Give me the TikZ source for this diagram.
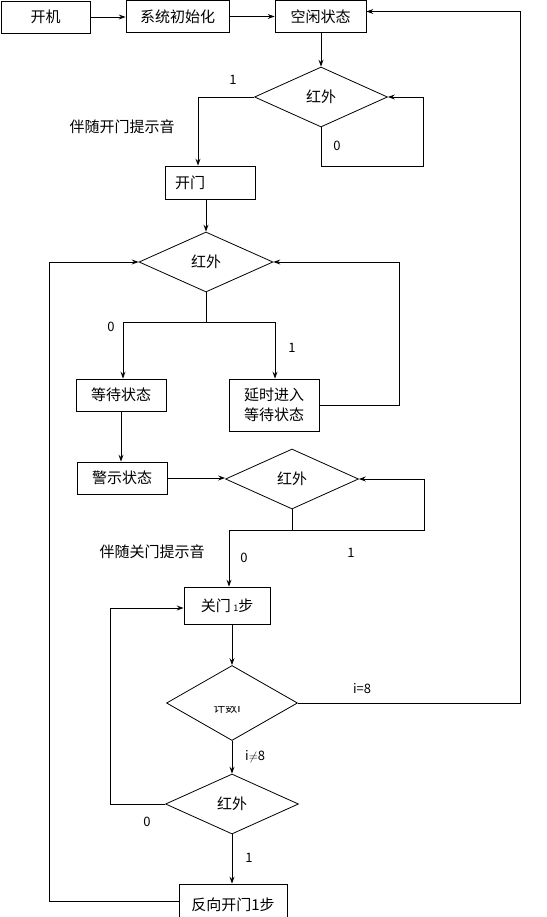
\documentclass[tikz,border=0pt]{standalone}
\usepackage{fontspec}
\setmainfont{Noto Sans CJK SC}
\usetikzlibrary{shapes.geometric,arrows.meta,calc}
\begin{document}
\begin{tikzpicture}[x=1pt,y=-1pt,
  every node/.style={font=\fontsize{15}{18}\selectfont},
  box/.style={draw,line width=0.8pt,rectangle,inner sep=0pt,align=center},
  dia/.style={draw,line width=0.8pt,diamond,inner sep=0pt,aspect=2},
  ln/.style={line width=0.8pt},
  arr/.style={line width=0.8pt,-{Stealth[length=7pt,width=5pt,inset=2.5pt]}},
  lbl/.style={inner sep=0pt,font=\fontsize{13}{15}\selectfont}]
\useasboundingbox (0,0) rectangle (546,917);
% boxes
\node[box,minimum width=89pt,minimum height=32pt] (kj) at (45.5,17) {开机};
\node[box,minimum width=103pt,minimum height=32pt] (xt) at (177.5,16.5) {系统初始化};
\node[box,minimum width=91pt,minimum height=32pt] (kx) at (320.5,16.5) {空闲状态};
\node[dia,minimum width=133pt,minimum height=60pt] (d1) at (321,97) {红外};
\node[box,minimum height=33pt,inner xsep=10pt,text width=70pt,align=left] (km) at (210,182.5) {开门};
\node[dia,minimum width=134pt,minimum height=60pt] (d2) at (206,262) {红外};
\node[box,minimum width=90pt,minimum height=32pt] (dd) at (121,395) {等待状态};
\node[box,minimum width=90pt,minimum height=52pt,font=\fontsize{15}{20}\selectfont] (ys) at (274,405) {延时进入\\等待状态};
\node[box,minimum width=90pt,minimum height=32pt] (js) at (122,478) {警示状态};
\node[dia,minimum width=133pt,minimum height=60pt] (d3) at (292,479) {红外};
\node[box,minimum width=86pt,minimum height=37pt] (gm) at (227,605.5) {关门\,{\fontsize{9}{9}\selectfont 1}步};
\node[dia,minimum width=131pt,minimum height=75pt] (d4) at (232,703) {};
\node[dia,minimum width=133pt,minimum height=60pt] (d5) at (232,804) {红外};
\node[box,minimum width=108pt,minimum height=42pt] (fx) at (233,905) {反向开门1步};
% clipped text in counting diamond
\begin{scope}
\clip (190,706) rectangle (270,730);
\node[font=\fontsize{12}{14}\selectfont] (jsi) at (227,708) {计数i};
\end{scope}
% labels
\node[lbl] (l1) at (233,80) {1};
\node[lbl] (l2) at (337,146) {0};
\node (t1) at (122,127) {伴随开门提示音};
\node[lbl] (l3) at (111,327) {0};
\node[lbl] (l4) at (292,348) {1};
\node (t2) at (152,552) {伴随关门提示音};
\node[lbl] (l5) at (244,558) {0};
\node[lbl] (l6) at (351,553) {1};
\node[lbl] (l7) at (362,689) {i=8};
\node[lbl,anchor=west] (l8) at (245,757) {i$\neq$8};
\node[lbl] (l9) at (147,822) {0};
\node[lbl] (l10) at (249,858) {1};
% connectors
\draw[arr] (kj.east) -- (kj.east -| xt.west);
\draw[arr] (xt.east) -- (xt.east -| kx.west);
\draw[arr] (kx.south -| d1.north) -- (d1.north);
\draw[arr] (d1.south) |- ($(d1.south)+(102,39)$) |- (d1.east);
\draw[arr] (d1.west) -| ($(km.north)+(-12,0)$);
\draw[arr] (km.south -| d2.north) -- (d2.north);
\draw[ln] (d2.south) -- ++(0,30) coordinate (sp2);
\draw[ln] ($(dd.north |- sp2)+(2,0)$) -- ($(ys.north |- sp2)+(1,0)$);
\draw[arr] ($(dd.north |- sp2)+(2,0)$) -- ($(dd.north)+(2,0)$);
\draw[arr] ($(ys.north |- sp2)+(1,0)$) -- ($(ys.north)+(1,0)$);
\draw[arr] (ys.east) -- ++(80,0) |- (d2.east);
\draw[arr] ([yshift=4pt]fx.west) -| ($(d2.west)+(-89,0)$) -- (d2.west);
\draw[arr] (dd.south) -- (dd.south |- js.north);
\draw[arr] (js.east) -- (js.east -| d3.west);
\draw[arr] (d3.south) |- ($(d3.south)+(132,21)$) |- (d3.east);
\draw[arr] (d3.south) -- ++(0,21) -| ($(gm.north)+(2,0)$);
\draw[arr] (d4.north |- gm.south) -- (d4.north);
\draw[arr] (d4.south) -- (d5.north);
\draw[arr] (d5.west) -- ++(-55,0) |- ([yshift=-2.5pt]gm.west);
\draw[arr] (d5.south) -- (d5.south |- fx.north);
\draw[arr] (d4.east) -- ++(222,0) |- ([yshift=5pt]kx.east);
\end{tikzpicture}
\end{document}
